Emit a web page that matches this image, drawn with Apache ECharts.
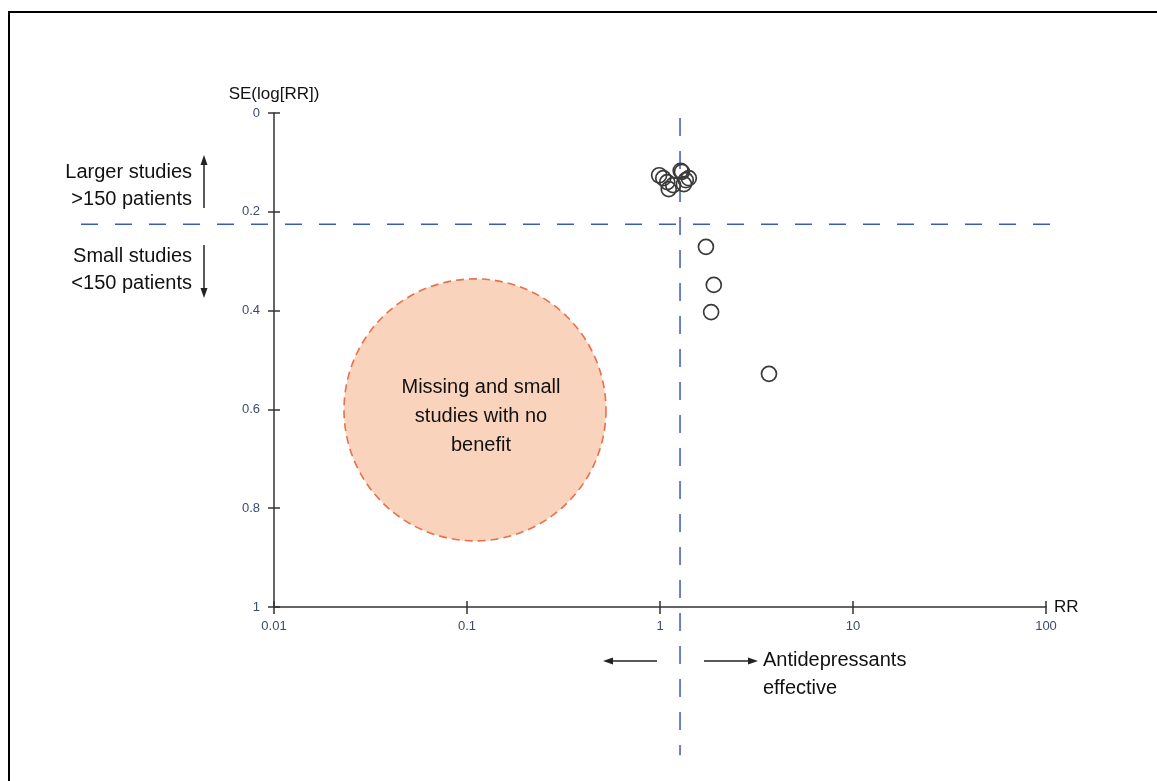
<!DOCTYPE html>
<html><head><meta charset="utf-8">
<script src="https://cdn.jsdelivr.net/npm/echarts@6/dist/echarts.min.js"></script>
<style>html,body{margin:0;padding:0;background:#fff}#c{width:1157px;height:781px}</style>
</head><body><div id="c"></div>
<script>
// ---- data ----
var xTickLabels = ['0.01', '0.1', '1', '10', '100'];
var yTickLabels = ['0', '0.2', '0.4', '0.6', '0.8', '1'];
// studies: [RR, SE(log RR)]
var largeStudies = [
  [0.99, 0.126], [1.04, 0.132], [1.09, 0.140], [1.11, 0.154], [1.17, 0.146],
  [1.28, 0.117], [1.30, 0.119], [1.33, 0.144], [1.36, 0.136], [1.41, 0.132]
];
var smallStudies = [[1.73, 0.271], [1.90, 0.348], [1.84, 0.403], [3.67, 0.528]];
var missingRegion = [[0.11, 0.601]];
var missingLabel = 'Missing and small\nstudies with no\nbenefit';
var pooledRR = 1.27;          // vertical dashed line
var sizeThresholdSE = 0.225;  // horizontal dashed line
var vLineSE = [0.01, 1.30];
var hLineLogRR = [-3.0, 2.03]; // log10 extent of horizontal line

var FONT = '"Liberation Sans", Arial, Helvetica, sans-serif';
var labelColor = '#3d4b6b';
var chart = echarts.init(document.getElementById('c'));

function xFmt(v) {
  var i = Math.round(Math.log(v) / Math.LN10) + 2;
  return xTickLabels[i] !== undefined ? xTickLabels[i] : '';
}
function yFmt(v) {
  var i = Math.round(v / 0.2);
  return yTickLabels[i] !== undefined ? yTickLabels[i] : '';
}

var baseX = {
  type: 'log', logBase: 10, min: 0.01, max: 100, position: 'bottom',
  splitLine: { show: false }, minorTick: { show: false }
};
var baseY = {
  type: 'value', min: 0, max: 1, interval: 0.2, inverse: true, position: 'left',
  splitLine: { show: false }
};

var option = {
  animation: false,
  textStyle: { fontFamily: FONT },
  grid: { left: 274, right: 111, top: 113, bottom: 174, containLabel: false },
  xAxis: [
    Object.assign({}, baseX, {
      name: 'RR', nameLocation: 'end', nameGap: 8,
      nameTextStyle: { fontSize: 17, color: '#111', fontFamily: FONT },
      axisLine: { show: true, onZero: false, lineStyle: { color: '#333', width: 1.5 } },
      axisTick: { show: true, inside: false, length: 7, lineStyle: { color: '#333', width: 1.5 } },
      axisLabel: { show: true, margin: 13, fontSize: 13, color: labelColor, fontFamily: FONT, formatter: xFmt }
    }),
    Object.assign({}, baseX, {
      axisLine: { show: false, onZero: false },
      axisTick: { show: true, inside: true, length: 6, lineStyle: { color: '#333', width: 1.5 } },
      axisLabel: { show: false }
    })
  ],
  yAxis: [
    Object.assign({}, baseY, {
      name: 'SE(log[RR])', nameLocation: 'start', nameGap: 10,
      nameTextStyle: { fontSize: 17, color: '#111', fontFamily: FONT, align: 'center' },
      axisLine: { show: true, onZero: false, lineStyle: { color: '#333', width: 1.5 } },
      axisTick: { show: true, inside: false, length: 6, lineStyle: { color: '#333', width: 1.5 } },
      axisLabel: { show: true, margin: 14, fontSize: 13, color: labelColor, fontFamily: FONT, formatter: yFmt }
    }),
    Object.assign({}, baseY, {
      axisLine: { show: false, onZero: false },
      axisTick: { show: true, inside: true, length: 6, lineStyle: { color: '#333', width: 1.5 } },
      axisLabel: { show: false }
    })
  ],
  series: [
    {
      type: 'scatter', data: missingRegion, symbol: 'circle', symbolSize: 262, z: 1,
      itemStyle: { color: '#f9d3bc', opacity: 1, borderColor: '#e8704a', borderWidth: 1.6, borderType: [8, 5] },
      label: {
        show: true, position: 'inside', formatter: missingLabel, offset: [6, 7],
        fontSize: 20, lineHeight: 29, color: '#111', opacity: 1, fontFamily: FONT, align: 'center'
      },
      silent: true
    },
    {
      type: 'line', data: [[pooledRR, vLineSE[0]], [pooledRR, vLineSE[1]]], clip: false,
      symbol: 'none', lineStyle: { color: '#3a5bb8', width: 1.5, type: [18, 15] }, z: 3
    },
    {
      type: 'scatter', data: largeStudies.concat(smallStudies), symbol: 'circle', symbolSize: 15, z: 4,
      itemStyle: { color: 'rgba(255,255,255,0)', opacity: 1, borderColor: '#3a3a3a', borderWidth: 1.7 }
    }
  ],
  graphic: [
    { type: 'polyline', shape: { points: [[9, 781], [9, 12], [1157, 12]] }, style: { stroke: '#000', lineWidth: 2, fill: null } },
    // left annotations
    { type: 'text', x: 192, y: 185.5, style: { text: 'Larger studies\n>150 patients', font: '20px ' + FONT, fill: '#111', align: 'right', verticalAlign: 'middle', lineHeight: 27 } },
    { type: 'text', x: 192, y: 269.5, style: { text: 'Small studies\n<150 patients', font: '20px ' + FONT, fill: '#111', align: 'right', verticalAlign: 'middle', lineHeight: 27 } },
    { type: 'line', shape: { x1: 204, y1: 208, x2: 204, y2: 163 }, style: { stroke: '#222', lineWidth: 1.5 } },
    { type: 'polygon', shape: { points: [[204, 155], [200.5, 165], [207.5, 165]] }, style: { fill: '#222' } },
    { type: 'line', shape: { x1: 204, y1: 245, x2: 204, y2: 290 }, style: { stroke: '#222', lineWidth: 1.5 } },
    { type: 'polygon', shape: { points: [[204, 298], [200.5, 288], [207.5, 288]] }, style: { fill: '#222' } },
    // bottom annotations
    { type: 'line', shape: { x1: 657, y1: 661, x2: 611, y2: 661 }, style: { stroke: '#222', lineWidth: 1.5 } },
    { type: 'polygon', shape: { points: [[603, 661], [613, 657.5], [613, 664.5]] }, style: { fill: '#222' } },
    { type: 'line', shape: { x1: 704, y1: 661, x2: 750, y2: 661 }, style: { stroke: '#222', lineWidth: 1.5 } },
    { type: 'polygon', shape: { points: [[758, 661], [748, 657.5], [748, 664.5]] }, style: { fill: '#222' } },
    { type: 'text', x: 763, y: 674, style: { text: 'Antidepressants\neffective', font: '20px ' + FONT, fill: '#111', align: 'left', verticalAlign: 'middle', lineHeight: 28 } }
  ]
};
chart.setOption(option);

// horizontal threshold line: positioned through the axes' own scales, extended beyond the grid in log space
var finder = { xAxisIndex: 0, yAxisIndex: 0 };
var p1 = chart.convertToPixel(finder, [1, sizeThresholdSE]);
var p10 = chart.convertToPixel(finder, [10, sizeThresholdSE]);
var decade = p10[0] - p1[0];
chart.setOption({
  graphic: option.graphic.concat([{
    type: 'line', z: 3,
    shape: { x1: p1[0] + hLineLogRR[0] * decade, y1: p1[1], x2: p1[0] + hLineLogRR[1] * decade, y2: p1[1] },
    style: { stroke: '#3a5bb8', lineWidth: 1.5, lineDash: [17, 17] }
  }])
});
</script></body></html>
